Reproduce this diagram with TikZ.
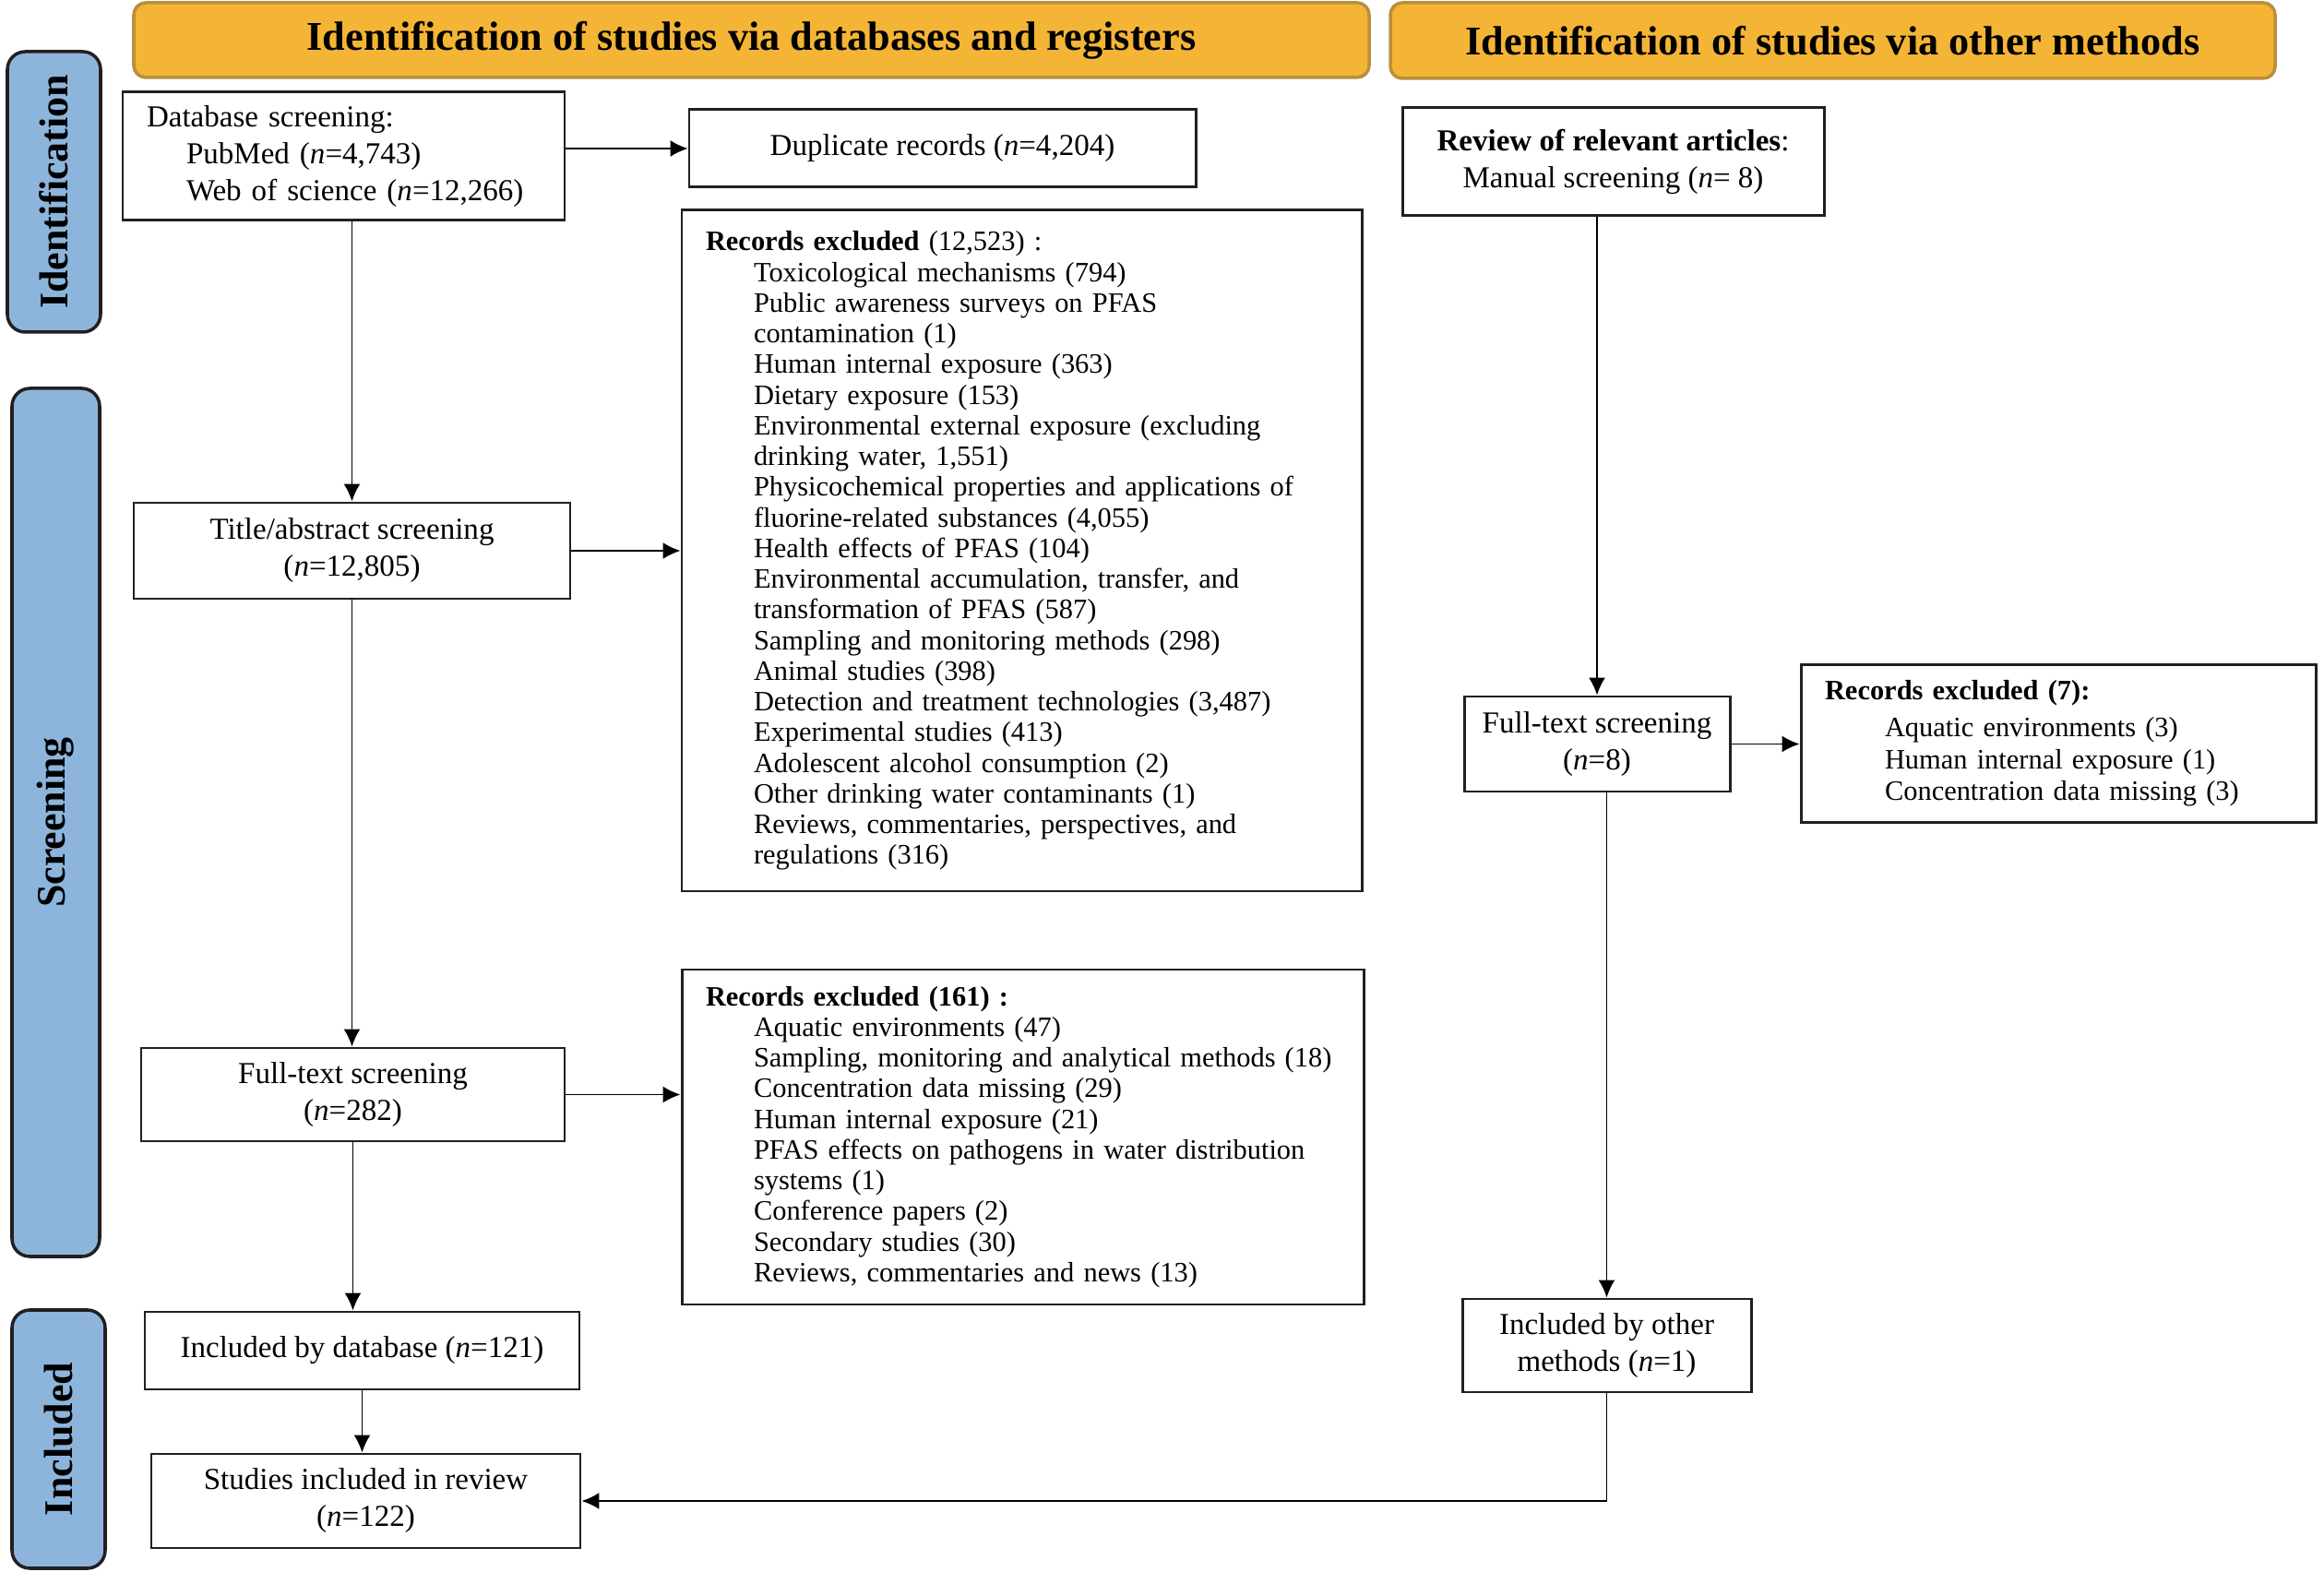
\documentclass[tikz,border=0pt]{standalone}
\usepackage{fontspec}
\setmainfont{Liberation Serif}
\usetikzlibrary{arrows.meta}

\definecolor{hdrfill}{RGB}{244,180,53}
\definecolor{hdrline}{RGB}{186,142,60}
\definecolor{phasefill}{RGB}{141,181,220}
\definecolor{inkc}{RGB}{35,31,32}

\newcommand{\itemin}{\hspace*{5.2mm}}

\begin{document}
\begin{tikzpicture}[
    >={Latex[length=1.9mm,width=1.8mm]},
    line width=0.5pt,
    hdr/.style={draw=hdrline, line width=1pt, fill=hdrfill, rounded corners=3.7pt, inner sep=0pt, font=\fontsize{12.6}{14}\selectfont\bfseries},
    phase/.style={draw=inkc, line width=1pt, fill=phasefill, rounded corners=5.5pt, rotate=90, inner sep=0pt, font=\fontsize{12.5}{14}\selectfont\bfseries},
    box/.style={draw=inkc, line width=0.85pt, fill=white, align=center, inner sep=0pt, font=\fontsize{9.4}{11.4}\selectfont},
    excl/.style={draw=inkc, line width=0.85pt, fill=white, align=left, inner xsep=2.6mm, inner ysep=0pt, font=\fontsize{8.66}{9.46}\selectfont}
]
\useasboundingbox (0,0) rectangle (25.19,-17.04);

% headers and phases
\node[hdr, minimum width=13.39cm, minimum height=0.81cm] (hdrdb) at (8.145,-0.435) {Identification of studies via databases and registers};
\node[hdr, minimum width=9.59cm, minimum height=0.82cm] (hdrot) at (19.865,-0.44) {Identification of studies via other methods};

\node[phase, minimum width=3.04cm, minimum height=1.01cm] (sideid) at (0.585,-2.08) {Identification};
\node[phase, minimum width=9.41cm, minimum height=0.95cm] (sidescr) at (0.605,-8.915) {Screening};
\node[phase, minimum width=2.80cm, minimum height=1.01cm] (sideinc) at (0.635,-15.6) {Included};

% databases column
\node[box, align=left, text width=4.27cm, minimum width=4.79cm, minimum height=1.39cm] (dbsrc) at (3.725,-1.695)
  {Database screening:\\ \hspace*{4.3mm}PubMed (\textit{n}=4,743)\\ \hspace*{4.3mm}Web of science (\textit{n}=12,266)};
\node[box, minimum width=5.49cm, minimum height=0.84cm] (dup) at (10.215,-1.61) {Duplicate records (\textit{n}=4,204)};

\node[box, minimum width=4.73cm, minimum height=1.04cm] (title) at (3.815,-5.97) {Title/abstract screening\\(\textit{n}=12,805)};
\node[excl, text width=6.85cm, minimum width=7.37cm, minimum height=7.38cm] (excl1) at (11.075,-5.97)
  {\textbf{Records excluded} (12,523) :\\
   \itemin Toxicological mechanisms (794)\\
   \itemin Public awareness surveys on PFAS\\
   \itemin contamination (1)\\
   \itemin Human internal exposure (363)\\
   \itemin Dietary exposure (153)\\
   \itemin Environmental external exposure (excluding\\
   \itemin drinking water, 1,551)\\
   \itemin Physicochemical properties and applications of\\
   \itemin fluorine-related substances (4,055)\\
   \itemin Health effects of PFAS (104)\\
   \itemin Environmental accumulation, transfer, and\\
   \itemin transformation of PFAS (587)\\
   \itemin Sampling and monitoring methods (298)\\
   \itemin Animal studies (398)\\
   \itemin Detection and treatment technologies (3,487)\\
   \itemin Experimental studies (413)\\
   \itemin Adolescent alcohol consumption (2)\\
   \itemin Other drinking water contaminants (1)\\
   \itemin Reviews, commentaries, perspectives, and\\
   \itemin regulations (316)};

\node[box, minimum width=4.59cm, minimum height=1.01cm] (ftscr) at (3.825,-11.865) {Full-text screening\\(\textit{n}=282)};
\node[excl, text width=6.87cm, minimum width=7.39cm, minimum height=3.63cm] (excl2) at (11.085,-12.325)
  {\textbf{Records excluded (161) :}\\
   \itemin Aquatic environments (47)\\
   \itemin Sampling, monitoring and analytical methods (18)\\
   \itemin Concentration data missing (29)\\
   \itemin Human internal exposure (21)\\
   \itemin PFAS effects on pathogens in water distribution\\
   \itemin systems (1)\\
   \itemin Conference papers (2)\\
   \itemin Secondary studies (30)\\
   \itemin Reviews, commentaries and news (13)};

\node[box, minimum width=4.71cm, minimum height=0.84cm] (incdb) at (3.925,-14.64) {Included by database (\textit{n}=121)};
\node[box, minimum width=4.65cm, minimum height=1.02cm] (incall) at (3.965,-16.27) {Studies included in review\\(\textit{n}=122)};

% other methods column
\node[box, minimum width=4.57cm, minimum height=1.17cm] (review) at (17.485,-1.755)
  {\textbf{Review of relevant articles}:\\Manual screening (\textit{n}= 8)};
\node[box, minimum width=2.88cm, minimum height=1.03cm] (ftoth) at (17.31,-8.065) {Full-text screening\\(\textit{n}=8)};
\node[excl, text width=5.06cm, minimum width=5.58cm, minimum height=1.71cm, font=\fontsize{8.66}{9.8}\selectfont] (excl3) at (22.31,-8.06)
  {\textbf{Records excluded (7):}\\[1.5pt]
   \hspace*{6.5mm}Aquatic environments (3)\\
   \hspace*{6.5mm}Human internal exposure (1)\\
   \hspace*{6.5mm}Concentration data missing (3)};
\node[box, minimum width=3.13cm, minimum height=1.01cm] (incoth) at (17.415,-14.585) {Included by other\\methods (\textit{n}=1)};

% connectors
\draw[->] (dbsrc.east |- dup.west) -- (dup.west);
\draw[->] (dbsrc.south -| title.north) -- (title.north);
\draw[->] (title.east) -- (title.east -| excl1.west);
\draw[->] (title.south) -- (title.south |- ftscr.north);
\draw[->] (ftscr.east) -- (ftscr.east -| excl2.west);
\draw[->] (ftscr.south) -- (ftscr.south |- incdb.north);
\draw[->] (incdb.south) -- (incdb.south |- incall.north);
\draw[->] (review.south -| ftoth.north) -- (ftoth.north);
\draw[->] (ftoth.east) -- (ftoth.east -| excl3.west);
\draw[->] (ftoth.south -| incoth.north) -- (incoth.north);
\draw[->] (incoth.south) |- (incall.east);
\end{tikzpicture}
\end{document}
